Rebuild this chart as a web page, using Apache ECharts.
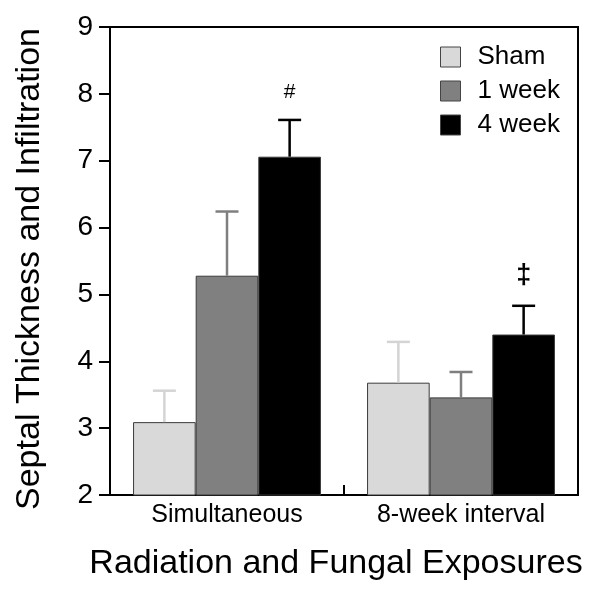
<!DOCTYPE html>
<html><head><meta charset="utf-8">
<script src="https://cdn.jsdelivr.net/npm/echarts@6/dist/echarts.min.js"></script>
<style>html,body{margin:0;padding:0;background:#fff}#c{width:607px;height:592px}</style>
</head><body><div id="c"></div>
<script>
const categories = ['Simultaneous', '8-week interval'];
const seriesNames = ['Sham', '1 week', '4 week'];
const shamVals = [3.09, 3.68];
const oneWeekVals = [5.28, 3.46];
const fourWeekVals = [7.06, 4.40];
const shamErr = [0.47, 0.61];
const oneWeekErr = [0.96, 0.38];
const fourWeekErr = [0.55, 0.43];
const fourWeekMarks = ['#', '\u2021'];
const yTicks = [2, 3, 4, 5, 6, 7, 8, 9];

const fills = ['#d9d9d9', '#808080', '#000000'];
const errColors = ['#d4d4d4', '#7f7f7f', '#000000'];
const vals = [shamVals, oneWeekVals, fourWeekVals];
const errs = [shamErr, oneWeekErr, fourWeekErr];
const CAT_GAP = 0.197;
const FONT = '"Liberation Sans", Arial, sans-serif';

const chart = echarts.init(document.getElementById('c'));
const series = [];
seriesNames.forEach((n, i) => {
  series.push({
    name: n, type: 'bar', data: vals[i], barGap: '0%', barCategoryGap: (CAT_GAP*100)+'%',
    itemStyle: { color: fills[i], borderColor: '#3a3a3a', borderWidth: 1 },
    z: 2
  });
});
seriesNames.forEach((n, i) => {
  series.push({
    type: 'custom', z: 5, silent: true,
    data: vals[i].map((v, k) => [k, v, v + errs[i][k]]),
    renderItem: function (params, api) {
      const k = api.value(0);
      const base = api.coord([k, api.value(1)]);
      const top = api.coord([k, api.value(2)]);
      const band = api.size([1, 0])[0];
      const bw = band * (1 - CAT_GAP) / 3;
      const x = base[0] + (i - 1) * bw;
      const half = 11.5;
      const children = [
        { type: 'line', shape: { x1: x, y1: base[1], x2: x, y2: top[1] }, style: { stroke: errColors[i], lineWidth: 2.5 } },
        { type: 'line', shape: { x1: x - half, y1: top[1], x2: x + half, y2: top[1] }, style: { stroke: errColors[i], lineWidth: 2.5 } }
      ];
      if (i === 2) {
        children.push({ type: 'text', style: { text: fourWeekMarks[k], x: x, y: top[1] - 17, align: 'center', verticalAlign: 'bottom', font: (k === 0 ? '21px ' : 'bold 27px ') + FONT, fill: '#000' } });
      }
      return { type: 'group', children: children };
    }
  });
});

chart.setOption({
  animation: false,
  backgroundColor: '#fff',
  grid: { left: 110, top: 27, right: 29, bottom: 97, show: true, borderColor: '#000', borderWidth: 2, backgroundColor: 'transparent' },
  legend: {
    data: seriesNames, orient: 'vertical', left: 435, top: 39, itemWidth: 20, itemHeight: 20, itemGap: 8,
    icon: 'rect', textStyle: { fontSize: 26, fontFamily: FONT, color: '#000', padding: [0, 0, 0, 12] },
    itemStyle: { borderColor: '#444', borderWidth: 1 }
  },
  xAxis: {
    type: 'category', data: categories,
    name: 'Radiation and Fungal Exposures', nameLocation: 'middle', nameGap: 52,
    nameTextStyle: { fontSize: 34, fontFamily: FONT, color: '#000', padding: [0, 16, 0, 0] },
    axisLine: { lineStyle: { color: '#000', width: 2 } },
    axisTick: { show: true, inside: true, length: 10, lineStyle: { color: '#000', width: 2 } },
    axisLabel: { fontSize: 25, fontFamily: FONT, color: '#000', margin: 8 }
  },
  yAxis: {
    type: 'value', min: yTicks[0], max: yTicks[yTicks.length - 1], interval: 1,
    name: 'Septal Thickness and Infiltration', nameLocation: 'middle', nameGap: 63,
    nameTextStyle: { fontSize: 34, fontFamily: FONT, color: '#000', padding: [0, 16, 0, 0] },
    axisLine: { show: true, lineStyle: { color: '#000', width: 2 } },
    axisTick: { show: true, length: 11, lineStyle: { color: '#000', width: 2 } },
    axisLabel: { fontSize: 28, fontFamily: FONT, color: '#000', margin: 17 },
    splitLine: { show: false }
  },
  series: series
});
</script></body></html>
